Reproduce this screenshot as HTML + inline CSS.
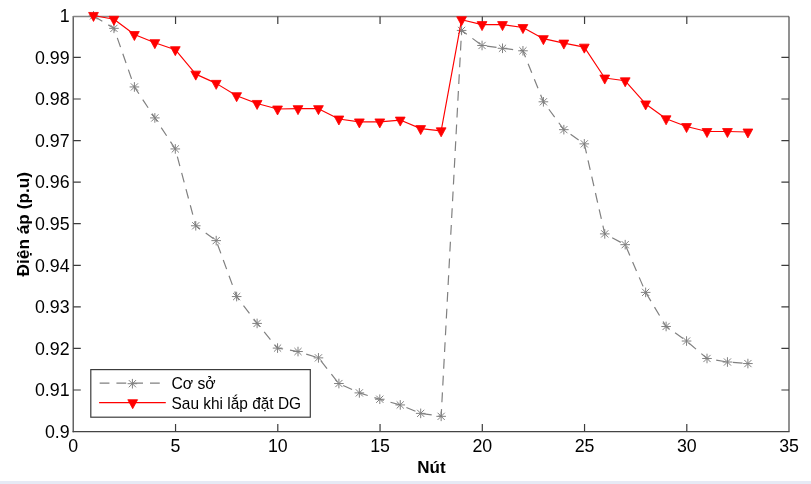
<!DOCTYPE html>
<html><head><meta charset="utf-8"><title>Plot</title>
<style>html,body{margin:0;padding:0;background:#fff;}body{width:811px;height:484px;overflow:hidden;position:relative;}svg{will-change:transform;display:block;position:absolute;left:0;top:0;}.band{position:absolute;left:0;top:481px;width:811px;height:3px;background:#e6eaf5;}</style></head><body>
<svg width="811" height="484" viewBox="0 0 811 484">
<g fill="none" stroke-width="1.2">
<path d="M73.2 15.9V432.2" stroke="#3c3c3c"/>
<path d="M72.6 431.6H789.6" stroke="#444"/>
<path d="M73.2 16.5H789" stroke="#858585" stroke-width="1.4"/>
<path d="M789 16.5V431.6" stroke="#484848"/>
<path d="M175.55 431.6V424M175.55 16.5V24.1M277.8 431.6V424M277.8 16.5V24.1M380.05 431.6V424M380.05 16.5V24.1M482.3 431.6V424M482.3 16.5V24.1M584.55 431.6V424M584.55 16.5V24.1M686.8 431.6V424M686.8 16.5V24.1M73.2 390H80.8M789 390H781.4M73.2 348.43H80.8M789 348.43H781.4M73.2 306.86H80.8M789 306.86H781.4M73.2 265.29H80.8M789 265.29H781.4M73.2 223.72H80.8M789 223.72H781.4M73.2 182.15H80.8M789 182.15H781.4M73.2 140.58H80.8M789 140.58H781.4M73.2 99.01H80.8M789 99.01H781.4M73.2 57.44H80.8M789 57.44H781.4" stroke="#3c3c3c"/>
</g>
<polyline points="93.5,15.87 113.95,28.34 134.4,86.95 154.85,117.92 175.3,148.93 195.75,225.77 216.2,240.62 236.65,296.57 257.1,323.42 277.55,348.1 298,351.54 318.45,357.86 338.9,383.53 359.35,392.89 379.8,399.23 400.25,404.93 420.7,413.36 441.15,416.34 461.6,30.42 482.05,45.48 502.5,48.29 522.95,50.79 543.4,101.8 563.85,129.66 584.3,143.87 604.75,233.88 625.2,244.67 645.65,292.38 666.1,326.47 686.55,341.03 707,358.48 727.45,362.02 747.9,363.56" fill="none" stroke="#808080" stroke-width="1.2" stroke-dasharray="9.8 6.97" stroke-dashoffset="-0.55"/>
<g fill="none" stroke="#808080" stroke-width="1.0">
<path d="M93.5 11.07V20.67M88.7 15.87H98.3M89.9 12.27L97.1 19.47M89.9 19.47L97.1 12.27"/>
<path d="M113.95 23.54V33.14M109.15 28.34H118.75M110.35 24.74L117.55 31.94M110.35 31.94L117.55 24.74"/>
<path d="M134.4 82.15V91.75M129.6 86.95H139.2M130.8 83.35L138 90.55M130.8 90.55L138 83.35"/>
<path d="M154.85 113.12V122.72M150.05 117.92H159.65M151.25 114.32L158.45 121.52M151.25 121.52L158.45 114.32"/>
<path d="M175.3 144.13V153.73M170.5 148.93H180.1M171.7 145.33L178.9 152.53M171.7 152.53L178.9 145.33"/>
<path d="M195.75 220.97V230.57M190.95 225.77H200.55M192.15 222.17L199.35 229.37M192.15 229.37L199.35 222.17"/>
<path d="M216.2 235.82V245.42M211.4 240.62H221M212.6 237.02L219.8 244.22M212.6 244.22L219.8 237.02"/>
<path d="M236.65 291.77V301.37M231.85 296.57H241.45M233.05 292.97L240.25 300.17M233.05 300.17L240.25 292.97"/>
<path d="M257.1 318.62V328.22M252.3 323.42H261.9M253.5 319.82L260.7 327.02M253.5 327.02L260.7 319.82"/>
<path d="M277.55 343.3V352.9M272.75 348.1H282.35M273.95 344.5L281.15 351.7M273.95 351.7L281.15 344.5"/>
<path d="M298 346.74V356.34M293.2 351.54H302.8M294.4 347.94L301.6 355.14M294.4 355.14L301.6 347.94"/>
<path d="M318.45 353.06V362.66M313.65 357.86H323.25M314.85 354.26L322.05 361.46M314.85 361.46L322.05 354.26"/>
<path d="M338.9 378.73V388.33M334.1 383.53H343.7M335.3 379.93L342.5 387.13M335.3 387.13L342.5 379.93"/>
<path d="M359.35 388.09V397.69M354.55 392.89H364.15M355.75 389.29L362.95 396.49M355.75 396.49L362.95 389.29"/>
<path d="M379.8 394.43V404.03M375 399.23H384.6M376.2 395.63L383.4 402.83M376.2 402.83L383.4 395.63"/>
<path d="M400.25 400.13V409.73M395.45 404.93H405.05M396.65 401.33L403.85 408.53M396.65 408.53L403.85 401.33"/>
<path d="M420.7 408.56V418.16M415.9 413.36H425.5M417.1 409.76L424.3 416.96M417.1 416.96L424.3 409.76"/>
<path d="M441.15 411.54V421.14M436.35 416.34H445.95M437.55 412.74L444.75 419.94M437.55 419.94L444.75 412.74"/>
<path d="M461.6 25.62V35.22M456.8 30.42H466.4M458 26.82L465.2 34.02M458 34.02L465.2 26.82"/>
<path d="M482.05 40.68V50.28M477.25 45.48H486.85M478.45 41.88L485.65 49.08M478.45 49.08L485.65 41.88"/>
<path d="M502.5 43.49V53.09M497.7 48.29H507.3M498.9 44.69L506.1 51.89M498.9 51.89L506.1 44.69"/>
<path d="M522.95 45.99V55.59M518.15 50.79H527.75M519.35 47.19L526.55 54.39M519.35 54.39L526.55 47.19"/>
<path d="M543.4 97V106.6M538.6 101.8H548.2M539.8 98.2L547 105.4M539.8 105.4L547 98.2"/>
<path d="M563.85 124.86V134.46M559.05 129.66H568.65M560.25 126.06L567.45 133.26M560.25 133.26L567.45 126.06"/>
<path d="M584.3 139.07V148.67M579.5 143.87H589.1M580.7 140.27L587.9 147.47M580.7 147.47L587.9 140.27"/>
<path d="M604.75 229.08V238.68M599.95 233.88H609.55M601.15 230.28L608.35 237.48M601.15 237.48L608.35 230.28"/>
<path d="M625.2 239.87V249.47M620.4 244.67H630M621.6 241.07L628.8 248.27M621.6 248.27L628.8 241.07"/>
<path d="M645.65 287.58V297.18M640.85 292.38H650.45M642.05 288.78L649.25 295.98M642.05 295.98L649.25 288.78"/>
<path d="M666.1 321.67V331.27M661.3 326.47H670.9M662.5 322.87L669.7 330.07M662.5 330.07L669.7 322.87"/>
<path d="M686.55 336.23V345.83M681.75 341.03H691.35M682.95 337.43L690.15 344.63M682.95 344.63L690.15 337.43"/>
<path d="M707 353.68V363.28M702.2 358.48H711.8M703.4 354.88L710.6 362.08M703.4 362.08L710.6 354.88"/>
<path d="M727.45 357.22V366.82M722.65 362.02H732.25M723.85 358.42L731.05 365.62M723.85 365.62L731.05 358.42"/>
<path d="M747.9 358.76V368.36M743.1 363.56H752.7M744.3 359.96L751.5 367.16M744.3 367.16L751.5 359.96"/>
</g>
<polyline points="93.5,15.45 113.95,19.3 134.4,34.54 154.85,42.67 175.3,49.7 195.75,74.13 216.2,83.37 236.65,95.69 257.1,103.45 277.55,109 298,108.65 318.45,108.65 338.9,119 359.35,121.93 379.8,121.93 400.25,120.08 420.7,128.61 441.15,130.82 461.6,19.69 482.05,24.62 502.5,24.62 522.95,27.55 543.4,38.65 563.85,43.08 584.3,47.15 604.75,78.05 625.2,80.8 645.65,103.95 666.1,118.8 686.55,126.55 707,131.5 727.45,131.5 747.9,131.99" fill="none" stroke="#ff0000" stroke-width="1.15" stroke-linejoin="round"/>
<g fill="#ff0000" stroke="#ff0000" stroke-width="0.8" stroke-linejoin="round">
<path d="M88.6 12.45L98.4 12.45L93.5 21.45Z"/>
<path d="M109.05 16.3L118.85 16.3L113.95 25.3Z"/>
<path d="M129.5 31.54L139.3 31.54L134.4 40.54Z"/>
<path d="M149.95 39.67L159.75 39.67L154.85 48.67Z"/>
<path d="M170.4 46.7L180.2 46.7L175.3 55.7Z"/>
<path d="M190.85 71.13L200.65 71.13L195.75 80.13Z"/>
<path d="M211.3 80.37L221.1 80.37L216.2 89.37Z"/>
<path d="M231.75 92.69L241.55 92.69L236.65 101.69Z"/>
<path d="M252.2 100.45L262 100.45L257.1 109.45Z"/>
<path d="M272.65 106L282.45 106L277.55 115Z"/>
<path d="M293.1 105.65L302.9 105.65L298 114.65Z"/>
<path d="M313.55 105.65L323.35 105.65L318.45 114.65Z"/>
<path d="M334 116L343.8 116L338.9 125Z"/>
<path d="M354.45 118.93L364.25 118.93L359.35 127.93Z"/>
<path d="M374.9 118.93L384.7 118.93L379.8 127.93Z"/>
<path d="M395.35 117.08L405.15 117.08L400.25 126.08Z"/>
<path d="M415.8 125.61L425.6 125.61L420.7 134.61Z"/>
<path d="M436.25 127.82L446.05 127.82L441.15 136.82Z"/>
<path d="M456.7 16.69L466.5 16.69L461.6 25.69Z"/>
<path d="M477.15 21.62L486.95 21.62L482.05 30.62Z"/>
<path d="M497.6 21.62L507.4 21.62L502.5 30.62Z"/>
<path d="M518.05 24.55L527.85 24.55L522.95 33.55Z"/>
<path d="M538.5 35.65L548.3 35.65L543.4 44.65Z"/>
<path d="M558.95 40.08L568.75 40.08L563.85 49.08Z"/>
<path d="M579.4 44.15L589.2 44.15L584.3 53.15Z"/>
<path d="M599.85 75.05L609.65 75.05L604.75 84.05Z"/>
<path d="M620.3 77.8L630.1 77.8L625.2 86.8Z"/>
<path d="M640.75 100.95L650.55 100.95L645.65 109.95Z"/>
<path d="M661.2 115.8L671 115.8L666.1 124.8Z"/>
<path d="M681.65 123.55L691.45 123.55L686.55 132.55Z"/>
<path d="M702.1 128.5L711.9 128.5L707 137.5Z"/>
<path d="M722.55 128.5L732.35 128.5L727.45 137.5Z"/>
<path d="M743 128.99L752.8 128.99L747.9 137.99Z"/>
</g>
<g font-family="Liberation Sans, sans-serif" font-size="17.8" fill="#000">
<text x="73.3" y="451.9" text-anchor="middle">0</text>
<text x="175.55" y="451.9" text-anchor="middle">5</text>
<text x="277.8" y="451.9" text-anchor="middle">10</text>
<text x="380.05" y="451.9" text-anchor="middle">15</text>
<text x="482.3" y="451.9" text-anchor="middle">20</text>
<text x="584.55" y="451.9" text-anchor="middle">25</text>
<text x="686.8" y="451.9" text-anchor="middle">30</text>
<text x="789.05" y="451.9" text-anchor="middle">35</text>
<text x="69.6" y="437.87" text-anchor="end">0.9</text>
<text x="69.6" y="396.3" text-anchor="end">0.91</text>
<text x="69.6" y="354.73" text-anchor="end">0.92</text>
<text x="69.6" y="313.16" text-anchor="end">0.93</text>
<text x="69.6" y="271.59" text-anchor="end">0.94</text>
<text x="69.6" y="230.02" text-anchor="end">0.95</text>
<text x="69.6" y="188.45" text-anchor="end">0.96</text>
<text x="69.6" y="146.88" text-anchor="end">0.97</text>
<text x="69.6" y="105.31" text-anchor="end">0.98</text>
<text x="69.6" y="63.74" text-anchor="end">0.99</text>
<text x="69.6" y="22.17" text-anchor="end">1</text>
</g>
<text font-family="Liberation Sans, sans-serif" font-size="17" font-weight="bold" x="431.5" y="472.9" text-anchor="middle">Nút</text>
<text font-family="Liberation Sans, sans-serif" font-size="16" font-weight="bold" transform="translate(28.8,224.2) rotate(-90)" text-anchor="middle" textLength="104.6" lengthAdjust="spacingAndGlyphs">Điện áp (p.u)</text>
<rect x="90.8" y="369.6" width="219.5" height="47.6" fill="#fff" stroke="#3c3c3c" stroke-width="1.2"/>
<path d="M99.1 383.2H165.8" stroke="#808080" stroke-width="1.2" stroke-dasharray="9.8 6.97" stroke-dashoffset="-0.55" fill="none"/>
<g fill="none" stroke="#808080" stroke-width="1.0"><path d="M132.4 378.9V388.5M127.6 383.7H137.2M128.8 380.1L136 387.3M128.8 387.3L136 380.1"/></g>
<path d="M99.1 402.7H165.8" stroke="#ff0000" stroke-width="1.3" fill="none"/>
<g fill="#ff0000" stroke="#ff0000" stroke-width="0.8" stroke-linejoin="round"><path d="M127.8 399.7L137.6 399.7L132.7 408.7Z"/></g>
<g font-family="Liberation Sans, sans-serif" font-size="15.7" fill="#000">
<text x="171.4" y="389.2" textLength="44.3" lengthAdjust="spacingAndGlyphs">Cơ sở</text>
<text x="171.5" y="409.3" textLength="129.6" lengthAdjust="spacingAndGlyphs">Sau khi lắp đặt DG</text>
</g>
</svg>
<div class="band"></div>
</body></html>
